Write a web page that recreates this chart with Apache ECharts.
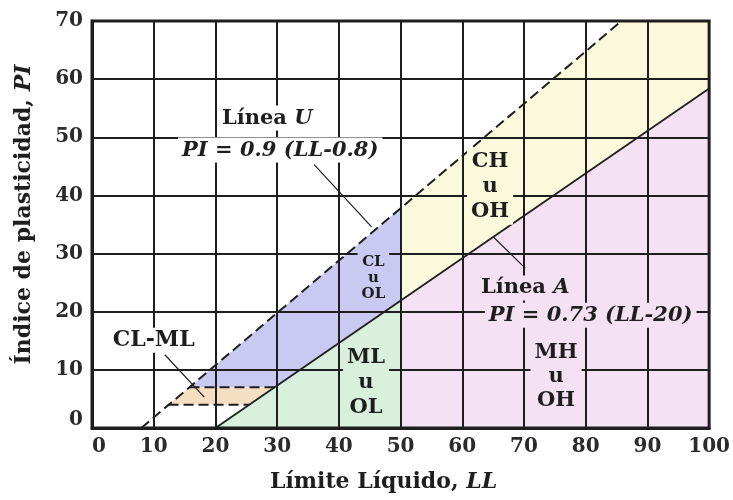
<!DOCTYPE html>
<html>
<head>
<meta charset="utf-8">
<script src="https://cdn.jsdelivr.net/npm/echarts@6/dist/echarts.min.js"></script>
<style>html,body{margin:0;padding:0;background:#fff}#c{width:733px;height:500px}</style>
</head>
<body>
<div id="c"></div>
<script>
// ---- data ----
const uLine = [[8, 0], [85.8, 70]];
const aLine = [[20, 0], [100, 58.4]];
const clmlUpper = [[15.8, 7], [29.6, 7]];
const clmlLower = [[12.4, 4], [25.5, 4]];

const regionCLML = [[12.4, 4], [15.8, 7], [29.6, 7], [25.5, 4]];
const regionCLOL = [[15.8, 7], [29.6, 7], [50, 21.9], [50, 37.8]];
const regionMLOL = [[20, 0], [50, 0], [50, 21.9]];
const regionCHOH = [[50, 21.9], [50, 37.8], [85.8, 70], [100, 70], [100, 58.4]];
const regionMHOH = [[50, 0], [100, 0], [100, 58.4], [50, 21.9]];

const labelTexts = ['Línea {i|U}', '{i|PI = 0.9 (LL-0.8)}', 'CH\nu\nOH', 'CL\nu\nOL', 'ML\nu\nOL',
                    'Línea {i|A}', '{i|PI = 0.73 (LL-20)}', 'MH\nu\nOH', 'CL-ML'];
const labelPos = [[28.4, 53.3], [30.5, 47.8], [64.5, 41.6], [45.6, 25.8], [44.4, 7.9],
                  [70.2, 24.1], [80.8, 19.4], [75.2, 8.9], [10, 15.1]];

const leaderU = [[36, 45.3], [45.3, 34.6]];
const leaderA = [[65, 32.9], [70.2, 27.5]];
const leaderCLML = [[11.8, 12.6], [18.2, 5.3]];

// ---- styling ----
const FONT = 'DejaVu Serif';
const INK = '#1e1e1e';
const colors = {
  CLML: '#f4dfc3', CLOL: '#c9c9f1', MLOL: '#d9f1dc', CHOH: '#fbf9db', MHOH: '#f5e1f4'
};
const regions = [
  [regionMLOL, colors.MLOL], [regionMHOH, colors.MHOH], [regionCHOH, colors.CHOH],
  [regionCLOL, colors.CLOL], [regionCLML, colors.CLML]
];
const labelBg = ['#fff', '#fff', colors.CHOH, colors.CLOL, colors.MLOL, colors.MHOH, colors.MHOH, colors.MHOH, '#fff'];
const labelSize = [21, 21, 21, 15, 21, 21, 21, 21, 22];
const labelLH = [23, 23, 25, 16, 25, 23, 23, 24, 23];

function polySeries(pts, color) {
  return {
    type: 'custom', z: 1, silent: true, data: [pts[0]],
    renderItem: function (params, api) {
      return { type: 'polygon', shape: { points: pts.map(p => api.coord(p)) }, style: { fill: color } };
    }
  };
}
function lineSeries(pts, width, type, z) {
  return {
    type: 'line', data: pts, z: z || 3, symbol: 'none', silent: true,
    lineStyle: { color: INK, width: width, type: type }
  };
}

const chart = echarts.init(document.getElementById('c'), null, { renderer: 'canvas' });
const italic = (size) => ({ fontFamily: FONT, fontWeight: 'bold', fontStyle: 'italic', fontSize: size, color: INK });
const tickFont = { fontFamily: FONT, fontWeight: 'bold', fontSize: 20, color: '#2a2a2a' };

chart.setOption({
  animation: false,
  backgroundColor: '#fff',
  grid: { left: 92, right: 21, top: 21, bottom: 72, show: true, z: 2, borderColor: INK, borderWidth: 3, backgroundColor: 'transparent' },
  xAxis: {
    type: 'value', min: 0, max: 100, interval: 10, z: 2,
    axisLine: { show: true, lineStyle: { color: INK, width: 3 } },
    axisTick: { show: false },
    splitLine: { show: true, lineStyle: { color: INK, width: 2 } },
    axisLabel: Object.assign({ margin: 9, alignMinLabel: 'left' }, tickFont),
    name: 'Límite Líquido, {i|LL}', nameLocation: 'middle', nameGap: 43,
    nameTextStyle: { fontFamily: FONT, fontWeight: 'bold', fontSize: 22, color: INK, padding: [0, 34, 0, 0], rich: { i: italic(22) } }
  },
  yAxis: {
    type: 'value', min: 0, max: 70, interval: 10, z: 2,
    axisLine: { show: true, lineStyle: { color: INK, width: 3 } },
    axisTick: { show: false },
    splitLine: { show: true, lineStyle: { color: INK, width: 2 } },
    axisLabel: Object.assign({
      margin: 9,
      formatter: v => (v === 0 ? '{b|0}' : String(v)),
      rich: { b: Object.assign({ padding: [0, 0, 16, 0] }, tickFont) }
    }, tickFont),
    name: 'Índice de plasticidad, {i|PI}', nameLocation: 'middle', nameGap: 57,
    nameTextStyle: { fontFamily: FONT, fontWeight: 'bold', fontSize: 22, color: INK, padding: [0, 0, 0, 20], rich: { i: italic(22) } }
  },
  series: [
    ...regions.map(r => polySeries(r[0], r[1])),
    lineSeries(uLine, 2, [10, 5]),
    lineSeries(aLine, 1.8, 'solid'),
    lineSeries(clmlUpper, 2, [10, 5]),
    lineSeries(clmlLower, 2, [10, 5]),
    lineSeries(leaderU, 1.2, 'solid'),
    lineSeries(leaderA, 1.2, 'solid'),
    lineSeries(leaderCLML, 1.2, 'solid'),
    {
      type: 'scatter', z: 5, symbolSize: 0, silent: true,
      itemStyle: { opacity: 1 },
      data: labelPos.map((p, i) => ({
        value: p,
        label: {
          show: true, position: 'inside', formatter: labelTexts[i], opacity: 1,
          fontFamily: FONT, fontWeight: 'bold', fontSize: labelSize[i], lineHeight: labelLH[i], color: INK,
          align: 'center', verticalAlign: 'middle',
          backgroundColor: labelBg[i], padding: [1, 4],
          rich: { i: Object.assign(italic(labelSize[i]), { lineHeight: labelLH[i] }) }
        }
      }))
    }
  ]
});
</script>
</body>
</html>
